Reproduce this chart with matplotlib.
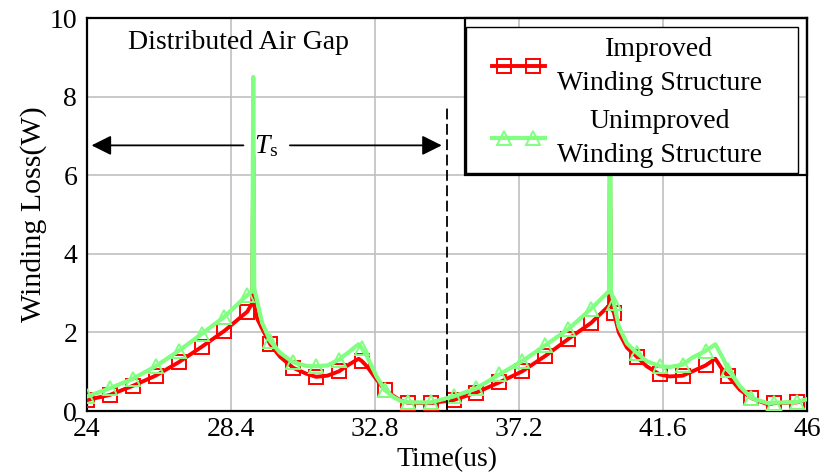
import numpy as np
import matplotlib as mpl
import matplotlib.pyplot as plt
from matplotlib.patches import Rectangle
from matplotlib.lines import Line2D
from matplotlib.legend_handler import HandlerLine2D

# Times-like look
mpl.rcParams['font.family'] = ['Liberation Serif', 'DejaVu Serif']
mpl.rcParams['mathtext.fontset'] = 'custom'
mpl.rcParams['mathtext.rm'] = 'Liberation Serif'
mpl.rcParams['mathtext.it'] = 'Liberation Serif:italic'
mpl.rcParams['font.size'] = 20

# data (time in us, loss in W)
time_us = [24.0, 24.7, 25.4, 26.1, 26.8, 27.5, 28.2, 28.9,
           29.05, 29.08, 29.11, 29.2, 29.35, 29.6, 29.9, 30.3, 30.7, 31.0,
           31.35, 31.7, 32.0, 32.3, 32.4, 32.55, 32.85, 33.1, 33.35, 33.6,
           33.8, 34.5, 35.2, 35.9, 36.6, 37.3, 38.0, 38.7, 39.4, 39.95,
           39.98, 40.01, 40.1, 40.25, 40.5, 40.8, 41.1, 41.5, 41.8, 42.2,
           42.5, 42.9, 43.2, 43.45, 43.6, 43.95, 44.3, 44.8, 45.0, 45.7, 46.0]

loss_improved = [0.28, 0.41, 0.64, 0.90, 1.24, 1.63, 2.04, 2.53,
                 2.75, 6.5, 2.70, 2.35, 2.10, 1.70, 1.38, 1.10, 0.95, 0.87,
                 0.90, 1.01, 1.18, 1.33, 1.27, 1.14, 0.80, 0.54, 0.39, 0.26,
                 0.21, 0.20, 0.28, 0.47, 0.73, 1.01, 1.40, 1.83, 2.24, 2.68,
                 6.5, 2.66, 2.50, 2.00, 1.61, 1.38, 1.14, 0.93, 0.88, 0.90,
                 1.01, 1.16, 1.33, 1.01, 0.88, 0.54, 0.33, 0.17, 0.20, 0.22, 0.30]

loss_unimproved = [0.37, 0.58, 0.82, 1.14, 1.53, 1.96, 2.40, 2.95,
                   3.05, 8.5, 3.10, 2.80, 2.25, 1.78, 1.48, 1.24, 1.15, 1.14,
                   1.16, 1.31, 1.50, 1.70, 1.60, 1.40, 0.88, 0.54, 0.36, 0.25,
                   0.22, 0.22, 0.37, 0.58, 0.93, 1.27, 1.67, 2.08, 2.60, 3.05,
                   8.4, 3.05, 2.75, 2.15, 1.72, 1.48, 1.27, 1.14, 1.12, 1.18,
                   1.36, 1.53, 1.70, 1.31, 1.05, 0.63, 0.33, 0.20, 0.21, 0.23, 0.30]

# sample times where the markers sit
marker_times = [24.0, 24.7, 25.4, 26.1, 26.8, 27.5, 28.2, 28.9, 29.6, 30.3,
                31.0, 31.7, 32.4, 33.1, 33.8, 34.5, 35.2, 35.9, 36.6, 37.3,
                38.0, 38.7, 39.4, 40.1, 40.8, 41.5, 42.2, 42.9, 43.6, 44.3,
                45.0, 45.7]

x_ticks = [24, 28.4, 32.8, 37.2, 41.6, 46]
y_ticks = [0, 2, 4, 6, 8, 10]
period_end = 35.0


class TwoMarkerHandler(HandlerLine2D):
    """legend line over the full handle width, two markers set in from the ends"""
    def create_artists(self, legend, orig_handle, xdescent, ydescent,
                       width, height, fontsize, trans):
        xs = np.linspace(-xdescent, -xdescent + width, 10)
        ys = np.full_like(xs, (height - ydescent) / 2)
        line = Line2D(xs, ys)
        self.update_prop(line, orig_handle, legend)
        line.set_markevery([2, 7])
        line.set_transform(trans)
        return [line]


t = np.array(time_us)
mark_idx = [int(np.argmin(np.abs(t - m))) for m in marker_times]

fig = plt.figure(figsize=(8.33, 4.75), dpi=100)
ax = fig.add_axes([0.1044, 0.1347, 0.8644, 0.8273])

ax.plot(t, loss_improved, color='#ff0000', lw=2.8, marker='s', ms=9.5,
        mfc='none', mec='#ff0000', mew=1.4, markevery=mark_idx,
        label='Improved\nWinding Structure', zorder=3)
ax.plot(t, loss_unimproved, color='#80ff80', lw=3.0, marker='^', ms=10,
        mfc='none', mec='#80ff80', mew=1.4, markevery=mark_idx,
        label='Unimproved\nWinding Structure', zorder=4)

# end of one switching period
ax.vlines(period_end, 0, 7.72, colors='k', linestyles=(0, (6, 2.5)), lw=1.3, zorder=5)

# Ts arrows
arrow_kw = dict(arrowstyle='-|>,head_length=1.0,head_width=0.5', color='k',
                lw=1.3, shrinkA=0, shrinkB=0, mutation_scale=12)
ax.annotate('', xy=(24.14, 6.76), xytext=(28.78, 6.76), arrowprops=arrow_kw)
ax.annotate('', xy=(34.84, 6.76), xytext=(30.20, 6.76), arrowprops=arrow_kw)
ax.text(29.48, 6.74, r'$T_{\rm s}$', ha='center', va='center', fontsize=20)

ax.text(28.64, 9.37, 'Distributed Air Gap', ha='center', va='center')

# axes settings
ax.set_xlim(24, 46)
ax.set_ylim(0, 10)
ax.set_xticks(x_ticks)
ax.set_xticklabels(['24', '28.4', '32.8', '37.2', '41.6', '46'])
ax.set_yticks(y_ticks)
ax.tick_params(axis='y', length=0, pad=7)
ax.tick_params(axis='x', length=0, pad=4)
ax.grid(color='#c0c0c0', lw=1.2)
ax.set_axisbelow(True)
for s in ax.spines.values():
    s.set_linewidth(1.6)
ax.set_xlabel('Time(us)', labelpad=4)
ax.set_ylabel('Winding Loss(W)', fontsize=21.5, labelpad=2)

# legend: white inner box, outer frame touching the axes corner
ax.add_patch(Rectangle((0.527, 0.605), 0.461, 0.373, transform=ax.transAxes,
                       fc='white', ec='k', lw=1.0, zorder=6))
ax.add_patch(Rectangle((0.525, 0.6005), 0.475, 0.3995, transform=ax.transAxes,
                       fill=False, ec='k', lw=1.6, zorder=6, clip_on=False))
leg = ax.legend(loc='upper left', bbox_to_anchor=(0.5625, 0.952), borderaxespad=0,
                handler_map={Line2D: TwoMarkerHandler()},
                handlelength=1.9, handletextpad=0.43, labelspacing=0.45,
                borderpad=0, frameon=False)
leg.set_zorder(7)
for txt in leg.get_texts():
    txt.set_multialignment('center')
    txt.set_linespacing(1.48)

fig.savefig('out.png', dpi=100)
